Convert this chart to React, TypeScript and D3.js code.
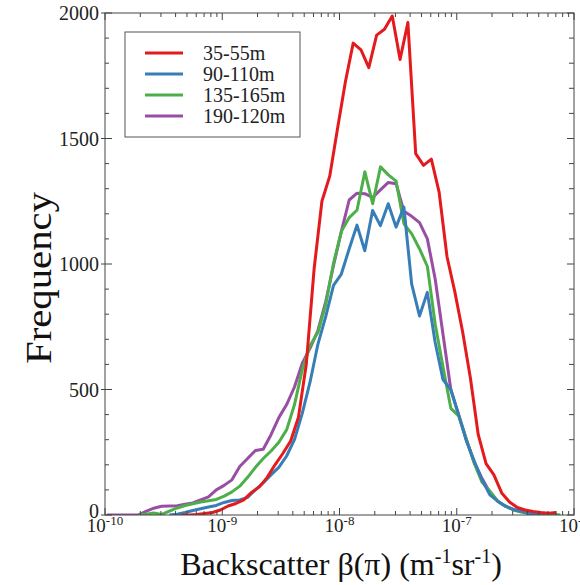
import React from 'react';
import * as d3 from 'd3';

// histogram bins are 1/15 decade wide; each series gives the log10 of its first bin
const binStep = 1 / 15;

const seriesNames = ['35-55m', '90-110m', '135-165m', '190-120m'];
const seriesColors = ['#e41a1c', '#377eb8', '#4daf4a', '#984ea3'];

const redStart = -9.35;
const redValues = [
  0, 0, 2, 6, 10, 20, 36, 46, 60, 90, 112, 150, 200, 245, 295, 390, 600, 980, 1250, 1350,
  1540, 1725, 1880, 1853, 1782, 1912, 1935, 1988, 1815, 1962, 1440, 1393, 1418, 1285, 1030,
  890, 730, 545, 320, 205, 160, 88, 52, 30, 20, 14, 10, 7, 10,
];

const blueStart = -9.451;
const blueValues = [
  0, 3, 10, 18, 25, 32, 38, 50, 58, 60, 70, 100, 128, 160, 190, 235, 300, 405, 530, 680,
  790, 915, 960, 1060, 1155, 1053, 1213, 1153, 1240, 1147, 1227, 920, 793, 887, 688, 540,
  500, 400, 295, 215, 140, 80, 55, 35, 22, 15, 8, 2, 0,
];

const greenStart = -9.717;
const greenValues = [
  0, 3, 8, 2, 15, 28, 38, 45, 52, 57, 62, 75, 92, 115, 150, 190, 225, 255, 290, 340, 440,
  580, 675, 728, 840, 1005, 1130, 1185, 1215, 1367, 1240, 1387, 1355, 1330, 1160, 1120, 1060,
  990, 760, 590, 425, 395, 300, 205, 130, 95, 55, 35, 20, 12, 6, 4, 3, 3, 0,
];

const purpleStart = -9.984;
const purpleValues = [
  0, 0, 0, 0, 0, 14, 27, 35, 36, 37, 43, 48, 60, 72, 100, 118, 140, 193, 225, 257, 262, 320,
  388, 440, 510, 605, 665, 735, 850, 995, 1130, 1255, 1282, 1280, 1265, 1295, 1325, 1320,
  1210, 1190, 1165, 1100, 940, 720, 500, 400, 300, 210, 145, 90, 55, 35, 22, 14, 8, 3, 0,
];

const yTickValues = [0, 500, 1000, 1500, 2000];
const xDecades = [-10, -9, -8, -7, -6];

const W = 580;
const H = 585;
const margin = { top: 13, right: 6, bottom: 70, left: 105 };

const font = '"Liberation Serif", "Times New Roman", serif';

export default function App() {
  const x = d3.scaleLog().domain([1e-10, 1e-6]).range([margin.left, W - margin.right]);
  const y = d3.scaleLinear().domain([0, 2000]).range([H - margin.bottom, margin.top]);

  const x0 = margin.left;
  const x1 = W - margin.right;
  const y0 = H - margin.bottom;
  const y1 = margin.top;

  const toPoints = (start: number, values: number[]) =>
    values.map((v, k) => ({ x: Math.pow(10, start + k * binStep), y: v }));

  const series = [
    { i: 3, pts: toPoints(purpleStart, purpleValues) },
    { i: 2, pts: toPoints(greenStart, greenValues) },
    { i: 1, pts: toPoints(blueStart, blueValues) },
    { i: 0, pts: toPoints(redStart, redValues) },
  ];

  const line = d3
    .line<{ x: number; y: number }>()
    .x(d => x(d.x))
    .y(d => y(d.y));

  const minorX = x.ticks().filter(t => Math.abs(Math.log10(t) - Math.round(Math.log10(t))) > 1e-6);
  const minorY = d3.range(0, 2001, 100).filter(v => v % 500 !== 0);

  return (
    <svg width={W} height={H} style={{ position: 'absolute', left: 0, top: 0, background: '#fff' }}>
      <defs>
        <clipPath id="plot">
          <rect x={x0} y={y1 - 4} width={x1 - x0} height={y0 - y1 + 4} />
        </clipPath>
      </defs>

      {/* data lines */}
      <g clipPath="url(#plot)" fill="none" strokeWidth={3} strokeLinejoin="round">
        {series.map(s => (
          <path key={s.i} d={line(s.pts) || ''} stroke={seriesColors[s.i]} />
        ))}
      </g>

      {/* frame */}
      <rect x={x0} y={y1} width={x1 - x0} height={y0 - y1} fill="none" stroke="#444" strokeWidth={1} />

      {/* ticks */}
      <g stroke="#444" strokeWidth={1}>
        {xDecades.map(e => (
          <g key={'mx' + e}>
            <line x1={x(Math.pow(10, e))} x2={x(Math.pow(10, e))} y1={y0} y2={y0 - 7} />
            <line x1={x(Math.pow(10, e))} x2={x(Math.pow(10, e))} y1={y1} y2={y1 + 7} />
          </g>
        ))}
        {minorX.map((t, k) => (
          <g key={'nx' + k}>
            <line x1={x(t)} x2={x(t)} y1={y0} y2={y0 - 4} />
            <line x1={x(t)} x2={x(t)} y1={y1} y2={y1 + 4} />
          </g>
        ))}
        {yTickValues.map(v => (
          <g key={'my' + v}>
            <line x1={x0 - 4} x2={x0 + 7} y1={y(v)} y2={y(v)} />
            <line x1={x1} x2={x1 - 7} y1={y(v)} y2={y(v)} />
          </g>
        ))}
        {minorY.map(v => (
          <g key={'ny' + v}>
            <line x1={x0} x2={x0 + 4} y1={y(v)} y2={y(v)} />
            <line x1={x1} x2={x1 - 5} y1={y(v)} y2={y(v)} />
          </g>
        ))}
      </g>

      {/* tick labels */}
      <g fontFamily={font} fill="#222">
        {yTickValues.map(v => (
          <text key={'ly' + v} x={x0 - 6} y={y(v) - (v === 0 ? 4 : 0)} dy="0.35em" textAnchor="end" fontSize={20}>
            {v}
          </text>
        ))}
        {xDecades.map(e => (
          <text key={'lx' + e} x={x(Math.pow(10, e))} y={y0 + 17} textAnchor="middle" fontSize={19}>
            <tspan>10</tspan>
            <tspan dy={-7} fontSize={13}>{e}</tspan>
          </text>
        ))}
      </g>

      {/* axis titles */}
      <text
        x={341}
        y={575}
        textAnchor="middle"
        fontFamily={font}
        fontSize={32}
        fill="#111"
      >
        Backscatter β(π) (m<tspan dy={-12} fontSize={20}>-1</tspan>
        <tspan dy={12}>sr</tspan>
        <tspan dy={-12} fontSize={20}>-1</tspan>
        <tspan dy={12}>)</tspan>
      </text>
      <text
        transform={`translate(51,278) rotate(-90)`}
        textAnchor="middle"
        fontFamily={font}
        fontSize={35}
        textLength={172}
        lengthAdjust="spacingAndGlyphs"
        fill="#111"
      >
        Frequency
      </text>

      {/* legend */}
      <g>
        <rect x={125} y={32} width={175} height={105} fill="#fff" stroke="#555" strokeWidth={1} />
        {seriesNames.map((name, i) => (
          <g key={name} transform={`translate(0,${53 + i * 21})`}>
            <line x1={145} x2={183} y1={0} y2={0} stroke={seriesColors[i]} strokeWidth={3} />
            <text x={203} y={0} dy="0.35em" fontFamily={font} fontSize={20} fill="#222">
              {name}
            </text>
          </g>
        ))}
      </g>
    </svg>
  );
}
